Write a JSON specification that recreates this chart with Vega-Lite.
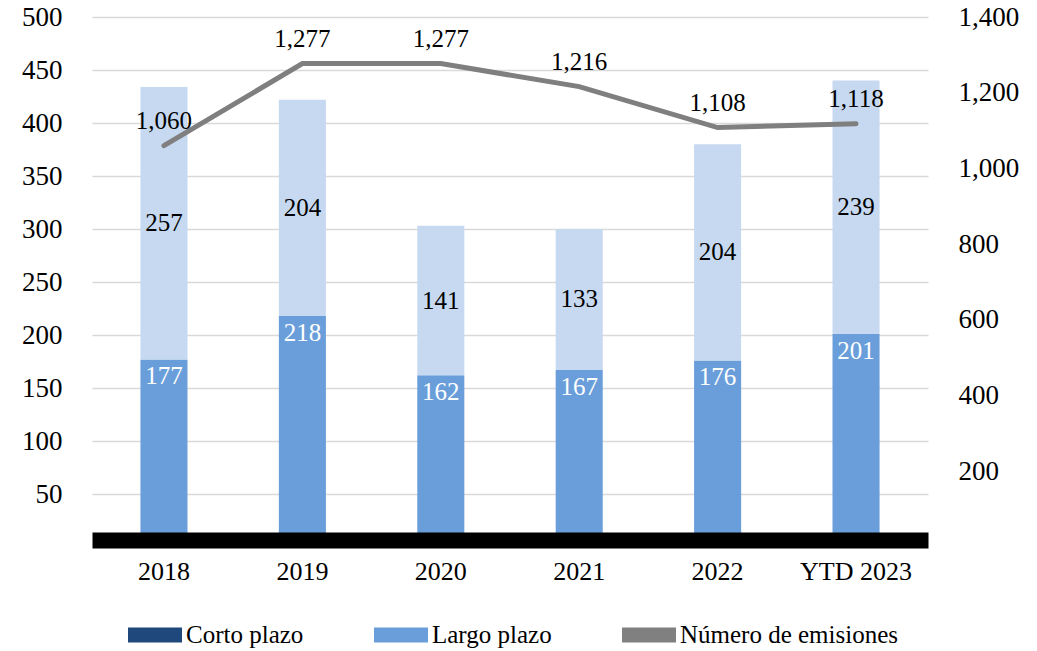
{
  "$schema": "https://vega.github.io/schema/vega-lite/v6.json",
  "width": 866,
  "height": 530,
  "autosize": {"type": "none"},
  "padding": {"left": 72, "top": 17, "right": 99, "bottom": 104},
  "config": {
    "font": "Liberation Serif",
    "view": {"stroke": null},
    "text": {"font": "Liberation Serif"},
    "style": {"guide-label": {"font": "Liberation Serif", "fill": "black"}},
    "axis": {"labelFont": "Liberation Serif", "labelColor": "black", "labelFontSize": 26}
  },
  "datasets": {
    "barras": [
      {"periodo": "2018", "serie": "Largo plazo", "valor": 177},
      {"periodo": "2018", "serie": "Corto plazo", "valor": 257},
      {"periodo": "2019", "serie": "Largo plazo", "valor": 218},
      {"periodo": "2019", "serie": "Corto plazo", "valor": 204},
      {"periodo": "2020", "serie": "Largo plazo", "valor": 162},
      {"periodo": "2020", "serie": "Corto plazo", "valor": 141},
      {"periodo": "2021", "serie": "Largo plazo", "valor": 167},
      {"periodo": "2021", "serie": "Corto plazo", "valor": 133},
      {"periodo": "2022", "serie": "Largo plazo", "valor": 176},
      {"periodo": "2022", "serie": "Corto plazo", "valor": 204},
      {"periodo": "YTD 2023", "serie": "Largo plazo", "valor": 201},
      {"periodo": "YTD 2023", "serie": "Corto plazo", "valor": 239}
    ],
    "emisiones": [
      {"periodo": "2018", "emisiones": 1060},
      {"periodo": "2019", "emisiones": 1277},
      {"periodo": "2020", "emisiones": 1277},
      {"periodo": "2021", "emisiones": 1216},
      {"periodo": "2022", "emisiones": 1108},
      {"periodo": "YTD 2023", "emisiones": 1118}
    ],
    "leyenda": [
      {"serie": "Corto plazo"},
      {"serie": "Largo plazo"},
      {"serie": "Número de emisiones"}
    ]
  },
  "layer": [
    {
      "data": {"name": "barras"},
      "layer": [
        {
          "mark": {"type": "bar"},
          "encoding": {
            "x": {
              "field": "periodo", "type": "nominal", "sort": null,
              "scale": {"range": [20, 856], "paddingInner": 0.66, "paddingOuter": 0.35},
              "axis": {
                "title": null, "labelAngle": 0, "ticks": false, "grid": false,
                "domainColor": "black", "domainWidth": 16, "domainCap": "butt",
                "offset": -7, "labelPadding": 18, "zindex": 1,
                "labelFont": "Liberation Serif", "labelFontSize": 26, "labelColor": "black",
                "encode": {"labels": {"update": {"font": {"value": "Liberation Serif"}}}}
              }
            },
            "y": {
              "field": "valor", "type": "quantitative", "stack": "zero",
              "scale": {"domain": [0, 500], "nice": false},
              "axis": {
                "title": null, "values": [50, 100, 150, 200, 250, 300, 350, 400, 450, 500],
                "ticks": false, "domain": false, "grid": true,
                "gridColor": "#D9D9D9", "gridWidth": 1.3,
                "labelPadding": 10, "labelFlush": false,
                "labelFont": "Liberation Serif", "labelFontSize": 27, "labelColor": "black",
                "encode": {"labels": {"update": {"font": {"value": "Liberation Serif"}}}}
              }
            },
            "color": {
              "field": "serie", "type": "nominal",
              "scale": {"domain": ["Corto plazo", "Largo plazo"], "range": ["#C6D9F1", "#6A9EDA"]},
              "legend": null
            },
            "order": {"field": "serie", "sort": "descending"}
          }
        },
        {
          "transform": [
            {"stack": "valor", "groupby": ["periodo"], "sort": [{"field": "serie", "order": "descending"}], "as": ["v0", "v1"]},
            {"filter": "datum.serie === 'Corto plazo'"},
            {"fold": ["v0", "v1"], "as": ["extremo", "pos"]},
            {"aggregate": [{"op": "mean", "field": "pos", "as": "medio"}, {"op": "max", "field": "valor", "as": "etiqueta"}], "groupby": ["periodo"]}
          ],
          "mark": {"type": "text", "fontSize": 25, "color": "black", "baseline": "middle", "font": "Liberation Serif"},
          "encoding": {
            "x": {"field": "periodo", "type": "nominal", "sort": null},
            "y": {"field": "medio", "type": "quantitative"},
            "text": {"field": "etiqueta", "type": "quantitative"}
          }
        },
        {
          "transform": [{"filter": "datum.serie === 'Largo plazo'"}],
          "mark": {"type": "text", "fontSize": 25, "color": "white", "baseline": "top", "dy": 5, "font": "Liberation Serif"},
          "encoding": {
            "x": {"field": "periodo", "type": "nominal", "sort": null},
            "y": {"field": "valor", "type": "quantitative"},
            "text": {"field": "valor", "type": "quantitative"}
          }
        }
      ]
    },
    {
      "data": {"name": "emisiones"},
      "layer": [
        {
          "mark": {"type": "line", "color": "#7F7F7F", "strokeWidth": 5, "strokeCap": "round"},
          "encoding": {
            "x": {"field": "periodo", "type": "nominal", "sort": null},
            "y": {
              "field": "emisiones", "type": "quantitative",
              "scale": {"domain": [0, 1400], "nice": false},
              "axis": {
                "orient": "right", "title": null,
                "values": [200, 400, 600, 800, 1000, 1200, 1400],
                "format": ",d", "grid": false, "ticks": false, "domain": false,
                "labelPadding": 20, "labelFlush": false,
                "labelFont": "Liberation Serif", "labelFontSize": 27, "labelColor": "black",
                "encode": {"labels": {"update": {"font": {"value": "Liberation Serif"}}}}
              }
            }
          }
        },
        {
          "mark": {"type": "text", "fontSize": 25, "color": "black", "dy": -25, "font": "Liberation Serif"},
          "encoding": {
            "x": {"field": "periodo", "type": "nominal", "sort": null},
            "y": {"field": "emisiones", "type": "quantitative"},
            "text": {"field": "emisiones", "type": "quantitative", "format": ",d"}
          }
        }
      ]
    },
    {
      "data": {"name": "leyenda"},
      "transform": [{"filter": "false"}],
      "mark": {"type": "square"},
      "encoding": {
        "color": {
          "field": "serie", "type": "nominal",
          "scale": {"domain": ["Corto plazo", "Largo plazo", "Número de emisiones"], "range": ["#1F497D", "#6A9EDA", "#808080"]},
          "legend": {
            "orient": "none", "legendX": 56, "legendY": 591,
            "direction": "horizontal", "title": null,
            "symbolType": "M-1,-0.28L1,-0.28L1,0.28L-1,0.28Z",
            "symbolSize": 2916, "symbolStrokeWidth": 0, "symbolOpacity": 1,
            "labelFontSize": 25, "labelFont": "Liberation Serif", "labelColor": "black",
            "labelOffset": 4, "columnPadding": 70, "padding": 0, "labelLimit": 400,
            "encode": {"labels": {"update": {"font": {"value": "Liberation Serif"}}}}
          }
        }
      }
    }
  ],
  "resolve": {"scale": {"y": "independent", "color": "independent"}}
}
